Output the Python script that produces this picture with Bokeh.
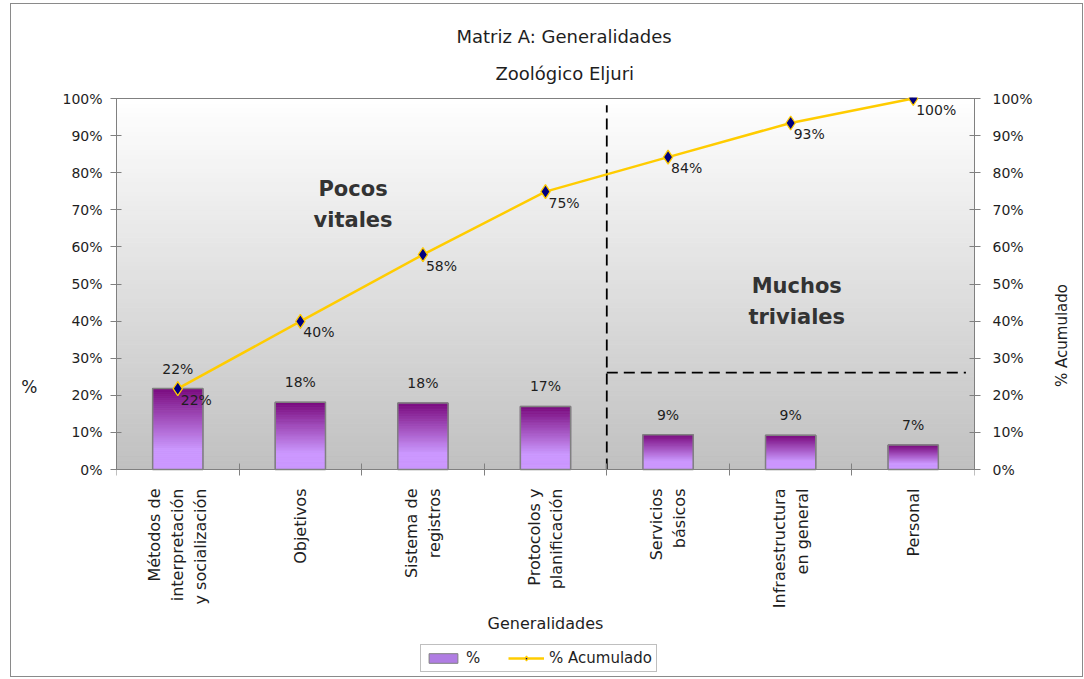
import numpy as np
from bokeh.plotting import figure
from bokeh.models import (Range1d, LinearAxis, FixedTicker, PrintfTickFormatter,
                          Legend, LegendItem, Title)
from bokeh.core.properties import value
from bokeh.embed import file_html
from bokeh.resources import INLINE

# ---------------- data ----------------
categories = ["Métodos de\ninterpretación\ny socialización", "Objetivos",
              "Sistema de\nregistros", "Protocolos y\nplanificación",
              "Servicios\nbásicos", "Infraestructura\nen general", "Personal"]
pct = [21.8, 18.1, 17.9, 17.0, 9.4, 9.2, 6.6]          # % per category
cum = [21.8, 39.9, 57.9, 74.9, 84.2, 93.4, 100.0]      # % acumulado
y_ticks = [0, 10, 20, 30, 40, 50, 60, 70, 80, 90, 100]

FONT = "DejaVu Sans"
TXT = "#1e1e1e"
GRAY = "#808080"
n = len(categories)
xc = [i + 0.5 for i in range(n)]

# frame extends below the 0 line so that the x-axis labels and the legend live inside it
PXU = 3.71                      # pixels per % unit (371 px for 0..100)
Y_TOP = 100 + 1 / PXU
Y_BOT = Y_TOP - 579 / PXU

p = figure(frame_width=858, frame_height=579, x_range=Range1d(0, n),
           y_range=Range1d(Y_BOT, Y_TOP),
           output_backend="svg", toolbar_location=None,
           min_border_left=105, min_border_right=106, min_border_top=93, min_border_bottom=0)
p.xgrid.visible = False
p.ygrid.visible = False
p.outline_line_color = None
p.background_fill_color = "white"
p.border_fill_color = "white"
p.styles = {"border": "1px solid #8a8a8a", "margin-left": "10px", "margin-top": "3px"}

# ---------- plot-area gradient (white top -> gray bottom) ----------
nb = 80
edges = np.linspace(0, 100, nb + 1)
bg_cols = []
for k in range(nb):
    t = (edges[k] + edges[k + 1]) / 200.0
    g = int(round(192 + (255 - 192) * t))
    bg_cols.append("#%02x%02x%02x" % (g, g, g))
p.quad(left=0, right=n, bottom=edges[:-1], top=edges[1:], fill_color=bg_cols,
       line_color=bg_cols, line_width=1)
# top border of the plot area
p.segment(x0=[0], y0=[100], x1=[n], y1=[100], line_color=GRAY, line_width=1)

# ---------- bars with vertical gradient ----------
BW = 0.41
base = p.vbar(x=xc, top=pct, width=BW, fill_color="#b07de3", line_color=GRAY)
ns = 40
light = np.array([204, 153, 255])
dark = np.array([122, 10, 125])
L, R, B, T, C = [], [], [], [], []
for i, h in enumerate(pct):
    for j in range(ns):
        t = (j + 0.5) / ns
        s = min(1.0, max(0.0, (t - 0.25) / 0.75))
        c = light + (dark - light) * s
        L.append(xc[i] - BW / 2); R.append(xc[i] + BW / 2)
        B.append(h * j / ns); T.append(h * (j + 1) / ns)
        C.append("#%02x%02x%02x" % tuple(int(round(v)) for v in c))
p.quad(left=L, right=R, bottom=B, top=T, fill_color=C, line_color=C, line_width=0.6)
p.vbar(x=xc, top=pct, width=BW, fill_color=None, line_color=GRAY, line_width=1.5)

# ---------- separators ----------
p.segment(x0=[4, 4], y0=[0, 26.1], x1=[4, 6.93], y1=[98.2, 26.1],
          line_color="black", line_dash="11 6", line_width=1.8)

# ---------- cumulative line ----------
line_r = p.line(xc, cum, line_color="#FFCC00", line_width=2.5)
sc_r = p.scatter(xc, cum, marker="diamond", size=14, fill_color="#000080",
                 line_color="#FFCC00", line_width=1.3)

# ---------- data labels ----------
p.text(x=xc, y=pct, text=["%d%%" % round(v) for v in pct], text_font=value(FONT),
       text_font_size="14px", text_color=TXT, text_align="center",
       text_baseline="bottom", y_offset=-12)
p.text(x=xc, y=cum, text=["%d%%" % round(v) for v in cum], text_font=value(FONT),
       text_font_size="14px", text_color=TXT, text_align="left",
       text_baseline="middle", x_offset=3, y_offset=11)

# ---------- annotations ----------
p.text(x=[1.93, 5.55], y=[71.4, 45.3], text=["Pocos\nvitales", "Muchos\ntriviales"],
       text_font=value(FONT), text_font_style="bold", text_font_size="21px",
       text_color="#333333", text_align="center", text_baseline="middle",
       text_line_height=1.3)

# ---------- axes ----------
xa = p.xaxis[0]
xa.fixed_location = 0
xa.ticker = FixedTicker(ticks=xc, minor_ticks=list(range(n + 1)))
xa.major_label_overrides = {xc[i]: categories[i] for i in range(n)}
xa.major_label_orientation = np.pi / 2
xa.major_tick_in = 0
xa.major_tick_out = 0
xa.minor_tick_in = 6
xa.minor_tick_out = 6
xa.minor_tick_line_color = GRAY
xa.axis_line_color = GRAY
xa.major_label_standoff = 13
xa.major_label_text_font = FONT
xa.major_label_text_font_size = "16px"
xa.major_label_text_color = TXT
xa.axis_label = "Generalidades"
xa.axis_label_text_font = FONT
xa.axis_label_text_font_size = "16px"
xa.axis_label_text_font_style = "normal"
xa.axis_label_text_color = TXT
xa.axis_label_standoff = 3

ya = p.yaxis[0]
ra = LinearAxis()
p.add_layout(ra, "right")
for ax, lab in ((ya, "%"), (ra, "% Acumulado")):
    ax.bounds = (0, 100)
    ax.ticker = FixedTicker(ticks=y_ticks)
    ax.formatter = PrintfTickFormatter(format="%d%%")
    ax.axis_label = lab
    ax.axis_line_color = GRAY
    ax.major_tick_line_color = GRAY
    ax.major_tick_in = 5
    ax.major_tick_out = 6
    ax.minor_tick_line_color = None
    ax.major_label_text_font = FONT
    ax.major_label_text_font_size = "14px"
    ax.major_label_text_color = TXT
    ax.axis_label_text_font = FONT
    ax.axis_label_text_font_style = "normal"
    ax.axis_label_text_color = TXT
    ax.axis_label_standoff = 22
ya.major_label_standoff = 8
ra.major_label_standoff = 12
ya.axis_label_orientation = "horizontal"
ya.axis_label_text_font_size = "17px"
ra.axis_label_orientation = np.pi / 2
ra.axis_label_text_align = "center"
ra.axis_label_text_font_size = "15px"
ra.axis_label_standoff = 26

# ---------- titles ----------
p.title.text = "Matriz A: Generalidades"
p.title.align = "left"
p.title.offset = 340
p.title.text_font = FONT
p.title.text_font_size = "18px"
p.title.text_font_style = "normal"
p.title.text_color = TXT
p.title.standoff = 0
p.add_layout(Title(text="Zoológico Eljuri", align="left", offset=379, text_font=FONT,
                   text_font_size="18px", text_font_style="normal", text_color=TXT,
                   standoff=28), "above")

# ---------- legend (inside the extended frame, below the axis labels) ----------
legend = Legend(items=[LegendItem(label="%", renderers=[base]),
                       LegendItem(label="% Acumulado", renderers=[line_r, sc_r])],
                orientation="horizontal", location=(304, 4),
                border_line_color=GRAY, background_fill_color="white",
                label_text_font=FONT, label_text_font_size="15px", label_text_color=TXT,
                label_height=16, glyph_width=36, glyph_height=12, spacing=22,
                padding=4, margin=0)
p.add_layout(legend)

open("out.html", "w").write(file_html(p, INLINE))
